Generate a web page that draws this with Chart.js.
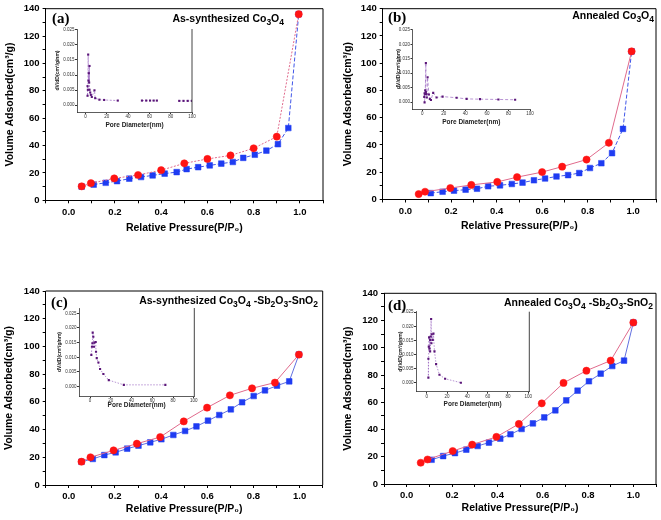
<!DOCTYPE html>
<html>
<head>
<meta charset="utf-8">
<script src="https://cdn.jsdelivr.net/npm/chart.js@4.4.0/dist/chart.umd.min.js"></script>
<style>
body { margin: 0; background: #fff; width: 661px; height: 520px; position: relative; overflow: hidden; }
canvas { position: absolute; display: block; }
</style>
</head>
<body>
<canvas id="ma" width="330" height="240" style="left:0;top:0"></canvas>
<canvas id="mb" width="331" height="240" style="left:330px;top:0"></canvas>
<canvas id="mc" width="330" height="260" style="left:0;top:260px"></canvas>
<canvas id="md" width="331" height="260" style="left:330px;top:260px"></canvas>
<canvas id="ia" width="150" height="112" style="left:50px;top:22px"></canvas>
<canvas id="ib" width="155" height="112" style="left:385px;top:22px"></canvas>
<canvas id="ic" width="150" height="115" style="left:50px;top:300px"></canvas>
<canvas id="id" width="150" height="110" style="left:390px;top:305px"></canvas>
<script>
const F = '"Liberation Sans", Arial, sans-serif';

// (a) as-synthesized Co3O4
const aRedX  = [0.056, 0.096, 0.197, 0.3, 0.4, 0.5, 0.6, 0.7, 0.8, 0.9, 0.995];
const aRedY  = [10.2, 12.5, 16, 18.5, 22, 27, 30.2, 32.8, 38, 46.5, 136];
const aBlueX = [0.056, 0.108, 0.16, 0.209, 0.262, 0.313, 0.363, 0.415, 0.467, 0.51, 0.56, 0.61, 0.66, 0.71, 0.755, 0.805, 0.855, 0.905, 0.95, 0.995];
const aBlueY = [10, 11.5, 12.8, 14, 15.8, 17, 18.2, 19.5, 20.6, 22.8, 24.2, 25.5, 26.8, 28, 31, 33.3, 36.3, 41, 52.8, 136];
// (b) annealed Co3O4
const bRedX  = [0.058, 0.086, 0.197, 0.289, 0.403, 0.49, 0.6, 0.688, 0.795, 0.893, 0.993];
const bRedY  = [4.0, 5.7, 8.4, 10.7, 12.9, 16.4, 20.1, 24.1, 29.3, 41.6, 108.7];
const bBlueX = [0.111, 0.163, 0.213, 0.264, 0.314, 0.363, 0.415, 0.467, 0.514, 0.564, 0.613, 0.663, 0.714, 0.763, 0.81, 0.86, 0.907, 0.955, 0.993];
const bBlueY = [4.7, 5.7, 6.5, 7.2, 7.9, 9.7, 10.4, 11.4, 12.4, 14.1, 15.4, 16.9, 17.9, 19.4, 23.1, 26.6, 34, 51.8, 108.7];
// (c) as-synthesized Co3O4-Sb2O3-SnO2
const cRedX  = [0.055, 0.094, 0.194, 0.295, 0.396, 0.498, 0.599, 0.698, 0.794, 0.893, 0.997];
const cRedY  = [16.8, 20, 25, 29.8, 34.6, 45.9, 55.8, 64.7, 69.8, 73.9, 94.1];
const cBlueX = [0.055, 0.104, 0.154, 0.203, 0.253, 0.302, 0.353, 0.401, 0.453, 0.504, 0.553, 0.603, 0.652, 0.702, 0.751, 0.801, 0.85, 0.902, 0.955, 0.997];
const cBlueY = [16.8, 18.8, 21.6, 23.6, 26.2, 28.4, 30.8, 33, 36.1, 39, 42.3, 46.4, 50.5, 54.6, 59.7, 64.2, 68.3, 71.7, 74.8, 94.1];
// (d) annealed Co3O4-Sb2O3-SnO2
const dRedX  = [0.062, 0.092, 0.203, 0.289, 0.396, 0.495, 0.596, 0.692, 0.793, 0.9, 1.0];
const dRedY  = [15.6, 18, 24.2, 28.9, 34.6, 44.1, 59.2, 74.2, 83.2, 90.6, 118.5];
const dBlueX = [0.11, 0.161, 0.213, 0.263, 0.313, 0.363, 0.413, 0.458, 0.507, 0.557, 0.607, 0.656, 0.704, 0.754, 0.804, 0.856, 0.907, 0.959, 1.0];
const dBlueY = [17.8, 20.5, 22.7, 25.2, 27.9, 30.4, 33.3, 36.5, 40.4, 44.5, 48.9, 54.1, 61.4, 68.5, 75.4, 81, 86.6, 90.6, 118.5];

// pore size distributions (insets)
const aPoreX = [1.9, 1.9, 2.2, 2.5, 2.8, 3.1, 3.4, 3.75, 3.75, 4.4, 5.0, 5.9, 8.4, 9.1, 13, 17.5, 30.3, 53, 57, 60.6, 64, 67, 88, 92, 96, 100];
const aPoreY = [0.0063, 0.0031, 0.0051, 0.0168, 0.0081, 0.0106, 0.0075, 0.0130, 0.0051, 0.0042, 0.0034, 0.0027, 0.0049, 0.0023, 0.0018, 0.0017, 0.0015, 0.0015, 0.0015, 0.0015, 0.0015, 0.0015, 0.0014, 0.0014, 0.0014, 0.0014];
const bPoreX = [1.9, 2.2, 2.2, 2.8, 2.8, 3.4, 3.4, 4.0, 4.3, 5.0, 6.2, 7.1, 8.1, 10.2, 13.3, 18.9, 31.9, 41.2, 53.6, 70.7, 86.2];
const bPoreY = [0.0018, 0.003, -0.0001, 0.0041, 0.0027, 0.0135, 0.0035, 0.0028, 0.0016, 0.0086, 0.0026, 0.0011, 0.0007, 0.0032, 0.0016, 0.0019, 0.0015, 0.0011, 0.001, 0.0009, 0.0008];
const cPoreX = [1.3, 1.9, 2.3, 2.6, 3.2, 3.9, 4.2, 5.5, 5.8, 6.5, 8.1, 9.7, 12.9, 18.1, 32.6, 72.6];
const cPoreY = [0.0108, 0.0136, 0.0148, 0.0184, 0.017, 0.0136, 0.015, 0.0152, 0.0119, 0.0097, 0.0082, 0.006, 0.0043, 0.0022, 0.0006, 0.0006];
const dPoreX = [1.6, 1.6, 2.0, 2.3, 2.6, 3.3, 3.3, 3.9, 4.3, 4.6, 4.9, 5.9, 6.6, 7.6, 9.2, 12.5, 18.1, 33.6];
const dPoreY = [0.0085, 0.0018, 0.0128, 0.0161, 0.0121, 0.0152, 0.0111, 0.0164, 0.0226, 0.014, 0.0172, 0.0152, 0.0174, 0.0111, 0.0066, 0.0028, 0.0014, 0.0];

// inset tick values
const poreTicks = [0, 20, 40, 60, 80, 100];
const dvdTicks = [0, 0.005, 0.01, 0.015, 0.02, 0.025];

const pts = (xs, ys) => xs.map((x, i) => ({x: x, y: ys[i]}));

// box round the plot area
function framePlugin(right, top) {
  return {
    id: 'frame',
    afterDraw(chart) {
      const c = chart.ctx, a = chart.chartArea;
      c.save();
      c.strokeStyle = top ? '#000' : '#444';
      c.lineWidth = 1;
      c.beginPath();
      if (top) { c.moveTo(a.left, a.top); c.lineTo(a.right, a.top); }
      if (right) { c.moveTo(a.right, a.top); c.lineTo(a.right, a.bottom); }
      c.stroke();
      c.restore();
    }
  };
}

// panel letter + sample name with subscripts
function labelPlugin(letter, lx, ly, parts, rx, ry) {
  return {
    id: 'label',
    afterDraw(chart) {
      const c = chart.ctx;
      c.save();
      c.fillStyle = '#000';
      c.textBaseline = 'alphabetic';
      c.font = 'bold 15px "Liberation Serif", "Times New Roman", serif';
      c.fillText(letter, lx, ly);
      let w = 0;
      parts.forEach(p => { c.font = 'bold ' + (p[1] ? 8.5 : 10.5) + 'px ' + F; w += c.measureText(p[0]).width; });
      let x = rx - w;
      parts.forEach(p => {
        c.font = 'bold ' + (p[1] ? 8.5 : 10.5) + 'px ' + F;
        c.fillText(p[0], x, ry + (p[1] ? 3 : 0));
        x += c.measureText(p[0]).width;
      });
      c.restore();
    }
  };
}

function mainChart(id, redX, redY, blueX, blueY, L, lab) {
  return new Chart(document.getElementById(id), {
    type: 'scatter',
    data: {
      datasets: [
        { data: pts(redX, redY), showLine: true, borderColor: '#e06a8c', borderWidth: 1, borderDash: L.redDash,
          pointStyle: 'circle', pointRadius: 3.6, pointBackgroundColor: '#ff1414', pointBorderColor: '#ff1414', pointBorderWidth: 0.5 },
        { data: pts(blueX, blueY), showLine: true, borderColor: L.blueLine, borderWidth: 1, borderDash: L.blueDash,
          pointStyle: 'rect', pointRadius: 4.0, pointBackgroundColor: '#1f3cf2', pointBorderColor: '#1f3cf2', pointBorderWidth: 0.5 }
      ]
    },
    options: {
      responsive: false,
      animation: false,
      events: [],
      layout: { padding: L.pad },
      plugins: { legend: { display: false }, tooltip: { enabled: false } },
      scales: {
        x: {
          min: -0.1, max: 1.1,
          afterFit: s => { s.height = L.xh; },
          border: { color: '#000', width: 1 },
          grid: { drawOnChartArea: false, tickLength: 3, color: '#000' },
          ticks: {
            stepSize: 0.1, includeBounds: false, autoSkip: false, maxRotation: 0, padding: 3, color: '#000',
            font: { family: F, size: 9.5, weight: 'bold' },
            callback: v => { const r = Math.round(v * 10); return (r % 2 === 0 && r >= 0 && r <= 10) ? (r / 10).toFixed(1) : ''; }
          },
          title: { display: true, text: 'Relative Pressure(P/P\u2080)', color: '#000', padding: 0,
                   font: { family: F, size: 10.5, weight: 'bold' } }
        },
        y: {
          min: 0, max: 140,
          afterFit: s => { s.width = L.yw; },
          border: { color: '#000', width: 1 },
          grid: { drawOnChartArea: false, tickLength: 3, color: '#000' },
          ticks: {
            stepSize: 10, includeBounds: false, autoSkip: false, padding: 3, color: '#000',
            font: { family: F, size: 9.5, weight: 'bold' },
            callback: v => (Math.round(v) % 20 === 0 ? String(Math.round(v)) : '')
          },
          title: { display: true, text: 'Volume Adsorbed(cm\u00b3/g)', color: '#000', padding: 0,
                   font: { family: F, size: 10.5, weight: 'bold' } }
        }
      }
    },
    plugins: [framePlugin(true, true), labelPlugin(lab.letter, lab.lx, lab.ly, lab.parts, lab.rx, lab.ry)]
  });
}

function insetChart(id, px, py, L) {
  return new Chart(document.getElementById(id), {
    type: 'scatter',
    data: {
      datasets: [{
        data: pts(px, py), showLine: true, borderColor: 'rgba(150,95,190,0.85)', borderWidth: 0.8, borderDash: L.dash,
        segment: { borderColor: ctx => (L.gaps && ctx.p1.parsed.x - ctx.p0.parsed.x > 15) ? 'rgba(0,0,0,0)' : undefined },
        pointStyle: 'rect', pointRadius: 1.5, pointBackgroundColor: '#5a1578', pointBorderColor: '#5a1578', pointBorderWidth: 0
      }]
    },
    options: {
      responsive: false,
      animation: false,
      events: [],
      layout: { padding: L.pad },
      plugins: { legend: { display: false }, tooltip: { enabled: false } },
      scales: {
        x: {
          min: L.xmin, max: L.xmax,
          afterFit: s => { s.height = L.xh; },
          afterBuildTicks: s => { s.ticks = poreTicks.map(v => ({ value: v })); },
          border: { color: '#333', width: 0.8 },
          grid: { drawOnChartArea: false, tickLength: 2, color: '#333' },
          ticks: { autoSkip: false, maxRotation: 0, padding: 0.5, color: '#333',
                   font: { family: F, size: 4.5 } },
          title: { display: true, text: 'Pore Diameter(nm)', color: '#222', padding: 0,
                   font: { family: F, size: 6.5, weight: 'bold' } }
        },
        y: {
          min: L.ymin, max: L.ymax,
          afterFit: s => { s.width = L.yw; },
          afterBuildTicks: s => { s.ticks = dvdTicks.map(v => ({ value: v })); },
          border: { color: '#333', width: 0.8 },
          grid: { drawOnChartArea: false, tickLength: 2, color: '#333' },
          ticks: { autoSkip: false, padding: 0.5, color: '#333',
                   font: { family: F, size: 4.5 },
                   callback: v => v.toFixed(3) },
          title: { display: true, text: 'dV/dD(cm\u00b3/g/nm)', color: '#222', padding: 0,
                   font: { family: F, size: 5, weight: 'bold' } }
        }
      }
    },
    plugins: [framePlugin(L.right, false)]
  });
}

mainChart('ma', aRedX, aRedY, aBlueX, aBlueY,
  { pad: { left: 4, top: 7, right: 7, bottom: 6 }, yw: 41.6, xh: 33.7, redDash: [2, 1.5], blueDash: [4, 2], blueLine: '#3f55e8' },
  { letter: '(a)', lx: 52, ly: 23, parts: [['As-synthesized Co'], ['3', 1], ['O'], ['4', 1]], rx: 284, ry: 21.5 });
mainChart('mb', bRedX, bRedY, bBlueX, bBlueY,
  { pad: { left: 12, top: 7, right: 5, bottom: 7.3 }, yw: 40.7, xh: 33.2, redDash: [], blueDash: [4, 2], blueLine: '#3f55e8' },
  { letter: '(b)', lx: 58, ly: 22, parts: [['Annealed Co'], ['3', 1], ['O'], ['4', 1]], rx: 324, ry: 18.5 });
mainChart('mc', cRedX, cRedY, cBlueX, cBlueY,
  { pad: { left: 3, top: 31, right: 7.3, bottom: 5 }, yw: 42.7, xh: 30, redDash: [], blueDash: [], blueLine: '#6270e0' },
  { letter: '(c)', lx: 51, ly: 47, parts: [['As-synthesized Co'], ['3', 1], ['O'], ['4', 1], [' -Sb'], ['2', 1], ['O'], ['3', 1], ['-SnO'], ['2', 1]], rx: 318, ry: 44 });
mainChart('md', dRedX, dRedY, dBlueX, dBlueY,
  { pad: { left: 12.3, top: 33.3, right: 5, bottom: 6 }, yw: 41.7, xh: 30, redDash: [], blueDash: [], blueLine: '#6270e0' },
  { letter: '(d)', lx: 58, ly: 49.5, parts: [['Annealed Co'], ['3', 1], ['O'], ['4', 1], [' -Sb'], ['2', 1], ['O'], ['3', 1], ['-SnO'], ['2', 1]], rx: 323, ry: 46 });

insetChart('ia', aPoreX, aPoreY,
  { pad: { left: 5, top: 7, right: 8, bottom: 5.1 }, yw: 22, xh: 16.9, xmin: -8, xmax: 100, ymin: -0.0023, ymax: 0.0253, right: true, gaps: true, dash: [2, 1.5] });
insetChart('ib', bPoreX, bPoreY,
  { pad: { left: 10.5, top: 7, right: 10, bottom: 7.8 }, yw: 17, xh: 17.2, xmin: -9, xmax: 100, ymin: -0.0024, ymax: 0.0253, right: false, gaps: false, dash: [3, 2] });
insetChart('ic', cPoreX, cPoreY,
  { pad: { left: 7, top: 8, right: 5.7, bottom: 5.4 }, yw: 22, xh: 13.6, xmin: -10.6, xmax: 100.5, ymin: -0.0032, ymax: 0.0268, right: true, gaps: false, dash: [1.5, 1.5] });
insetChart('id', dPoreX, dPoreY,
  { pad: { left: 7.7, top: 6.7, right: 10.7, bottom: 7.1 }, yw: 18.3, xh: 16.2, xmin: -10.6, xmax: 101, ymin: -0.0032, ymax: 0.0252, right: true, gaps: false, dash: [1.5, 1.5] });
</script>
</body>
</html>
